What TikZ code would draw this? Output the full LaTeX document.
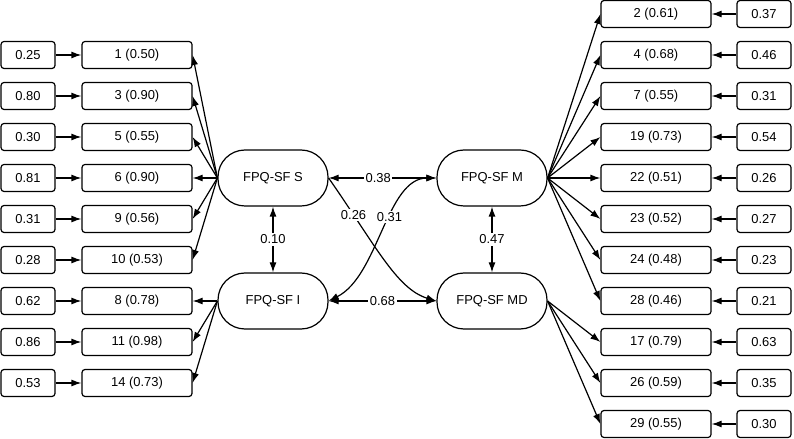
\documentclass[tikz,border=0pt]{standalone}
\usepackage{fontspec}
\setmainfont{Liberation Sans}
\usetikzlibrary{arrows.meta}

\begin{document}
\begin{tikzpicture}[>={Latex[length=10bp,width=7bp]},line join=bevel,
  item/.style={draw,rounded corners=3bp,minimum width=110bp,minimum height=27bp,inner sep=0pt,font=\fontsize{13}{15}\selectfont},
  err/.style={item,minimum width=54bp},
  latent/.style={draw,rounded corners=27bp,minimum width=110bp,minimum height=56bp,inner sep=0pt,font=\fontsize{13}{15}\selectfont},
  coef/.style={fill=white,inner sep=1.5bp,font=\fontsize{13}{15}\selectfont}]
  \pgfsetlinewidth{1.2bp}
  \useasboundingbox (0bp,0bp) rectangle (794bp,439bp);
%%
  % Node: S
  \node[latent] (S) at (273bp,261bp) {FPQ-SF S};
  % Node: I
  \node[latent] (I) at (273bp,138bp) {FPQ-SF I};
  % Node: M
  \node[latent] (M) at (492bp,261bp) {FPQ-SF M};
  % Node: MD
  \node[latent] (MD) at (492bp,138bp) {FPQ-SF MD};
  % Node: q1
  \node[item] (q1) at (137bp,384bp) {1 (0.50)};
  \node[err] (e1) at (28bp,384bp) {0.25};
  % Node: q3
  \node[item] (q3) at (137bp,343bp) {3 (0.90)};
  \node[err] (e3) at (28bp,343bp) {0.80};
  % Node: q5
  \node[item] (q5) at (137bp,302bp) {5 (0.55)};
  \node[err] (e5) at (28bp,302bp) {0.30};
  % Node: q6
  \node[item] (q6) at (137bp,261bp) {6 (0.90)};
  \node[err] (e6) at (28bp,261bp) {0.81};
  % Node: q9
  \node[item] (q9) at (137bp,220bp) {9 (0.56)};
  \node[err] (e9) at (28bp,220bp) {0.31};
  % Node: q10
  \node[item] (q10) at (137bp,179bp) {10 (0.53)};
  \node[err] (e10) at (28bp,179bp) {0.28};
  % Node: q8
  \node[item] (q8) at (137bp,138bp) {8 (0.78)};
  \node[err] (e8) at (28bp,138bp) {0.62};
  % Node: q11
  \node[item] (q11) at (137bp,97bp) {11 (0.98)};
  \node[err] (e11) at (28bp,97bp) {0.86};
  % Node: q14
  \node[item] (q14) at (137bp,56bp) {14 (0.73)};
  \node[err] (e14) at (28bp,56bp) {0.53};
  % Node: q2
  \node[item] (q2) at (656bp,425bp) {2 (0.61)};
  \node[err] (e2) at (764bp,425bp) {0.37};
  % Node: q4
  \node[item] (q4) at (656bp,384bp) {4 (0.68)};
  \node[err] (e4) at (764bp,384bp) {0.46};
  % Node: q7
  \node[item] (q7) at (656bp,343bp) {7 (0.55)};
  \node[err] (e7) at (764bp,343bp) {0.31};
  % Node: q19
  \node[item] (q19) at (656bp,302bp) {19 (0.73)};
  \node[err] (e19) at (764bp,302bp) {0.54};
  % Node: q22
  \node[item] (q22) at (656bp,261bp) {22 (0.51)};
  \node[err] (e22) at (764bp,261bp) {0.26};
  % Node: q23
  \node[item] (q23) at (656bp,220bp) {23 (0.52)};
  \node[err] (e23) at (764bp,220bp) {0.27};
  % Node: q24
  \node[item] (q24) at (656bp,179bp) {24 (0.48)};
  \node[err] (e24) at (764bp,179bp) {0.23};
  % Node: q28
  \node[item] (q28) at (656bp,138bp) {28 (0.46)};
  \node[err] (e28) at (764bp,138bp) {0.21};
  % Node: q17
  \node[item] (q17) at (656bp,97bp) {17 (0.79)};
  \node[err] (e17) at (764bp,97bp) {0.63};
  % Node: q26
  \node[item] (q26) at (656bp,56bp) {26 (0.59)};
  \node[err] (e26) at (764bp,56bp) {0.35};
  % Node: q29
  \node[item] (q29) at (656bp,15bp) {29 (0.55)};
  \node[err] (e29) at (764bp,15bp) {0.30};
%%
  % Edge: S -> q1, q3, q5, q6, q9, q10
  \draw [->] (S.west) -- (q1.east);
  \draw [->] (S.west) -- (q3.east);
  \draw [->] (S.west) -- (q5.east);
  \draw [->] (S.west) -- (q6.east);
  \draw [->] (S.west) -- (q9.east);
  \draw [->] (S.west) -- (q10.east);
  % Edge: I -> q8, q11, q14
  \draw [->] (I.west) -- (q8.east);
  \draw [->] (I.west) -- (q11.east);
  \draw [->] (I.west) -- (q14.east);
  % Edge: M -> q2, q4, q7, q19, q22, q23, q24, q28
  \draw [->] (M.east) -- (q2.west);
  \draw [->] (M.east) -- (q4.west);
  \draw [->] (M.east) -- (q7.west);
  \draw [->] (M.east) -- (q19.west);
  \draw [->] (M.east) -- (q22.west);
  \draw [->] (M.east) -- (q23.west);
  \draw [->] (M.east) -- (q24.west);
  \draw [->] (M.east) -- (q28.west);
  % Edge: MD -> q17, q26, q29
  \draw [->] (MD.east) -- (q17.west);
  \draw [->] (MD.east) -- (q26.west);
  \draw [->] (MD.east) -- (q29.west);
  % Edge: errors -> items, left side
  \draw [->] (e1) -- (q1);
  \draw [->] (e3) -- (q3);
  \draw [->] (e5) -- (q5);
  \draw [->] (e6) -- (q6);
  \draw [->] (e9) -- (q9);
  \draw [->] (e10) -- (q10);
  \draw [->] (e8) -- (q8);
  \draw [->] (e11) -- (q11);
  \draw [->] (e14) -- (q14);
  % Edge: errors -> items, right side
  \draw [->] (e2) -- (q2);
  \draw [->] (e4) -- (q4);
  \draw [->] (e7) -- (q7);
  \draw [->] (e19) -- (q19);
  \draw [->] (e22) -- (q22);
  \draw [->] (e23) -- (q23);
  \draw [->] (e24) -- (q24);
  \draw [->] (e28) -- (q28);
  \draw [->] (e17) -- (q17);
  \draw [->] (e26) -- (q26);
  \draw [->] (e29) -- (q29);
  % Edge: S <-> I
  \draw [<->] (S) -- node[coef] {0.10} (I);
  % Edge: M <-> MD
  \draw [<->] (M) -- node[coef] {0.47} (MD);
  % Edge: S <-> M
  \draw [<->] (S) -- node[coef,pos=0.46] {0.38} (M);
  % Edge: I <-> MD
  \draw [<->] (I) -- node[coef] {0.68} (MD);
  % Edge: S -> MD
  \draw [->] (S.east) .. controls +(-55:80bp) and +(-40bp,12bp) .. node[coef,pos=0.2] {0.26} (MD.west);
  % Edge: I -> M
  \draw [<->] (I.east) .. controls +(50bp,25bp) and +(-50bp,0bp) .. node[coef,pos=0.58] {0.31} (M.west);
%
\end{tikzpicture}
\end{document}
